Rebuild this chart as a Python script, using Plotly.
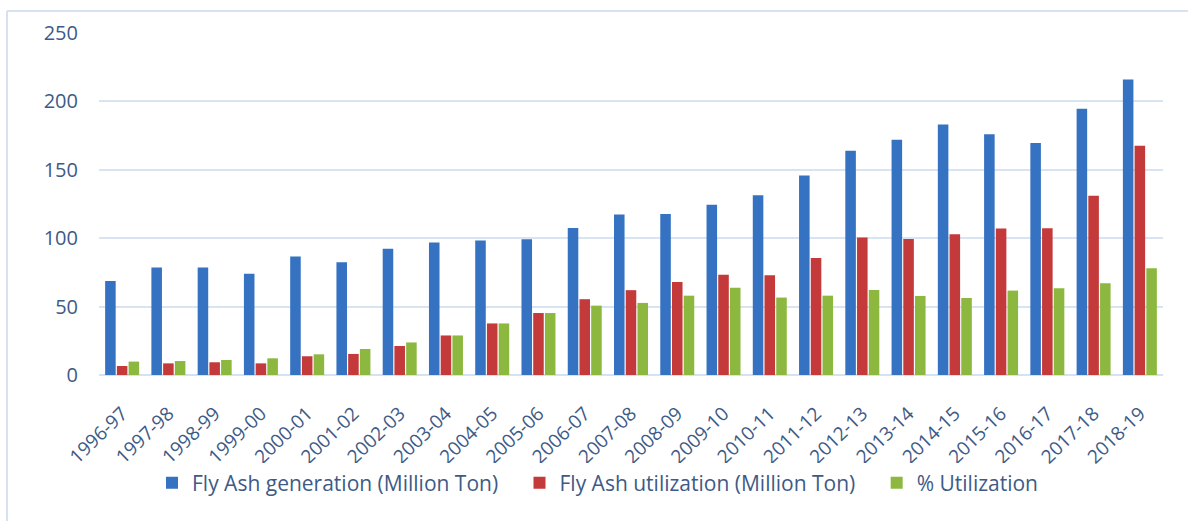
import plotly.graph_objects as go

years = ["1996-97", "1997-98", "1998-99", "1999-00", "2000-01", "2001-02", "2002-03",
         "2003-04", "2004-05", "2005-06", "2006-07", "2007-08", "2008-09", "2009-10",
         "2010-11", "2011-12", "2012-13", "2013-14", "2014-15", "2015-16", "2016-17",
         "2017-18", "2018-19"]
generation = [68.8, 78.5, 78.5, 74.1, 86.6, 82.4, 92.2, 96.8, 98.3, 99.3, 107.4, 117.4,
              117.6, 124.5, 131.4, 145.9, 163.9, 172.0, 183.2, 176.0, 169.5, 194.6, 216.0]
utilization = [6.6, 8.5, 9.3, 8.5, 13.7, 15.4, 21.2, 28.9, 37.7, 45.3, 55.4, 62.0,
               67.9, 73.3, 73.0, 85.6, 100.5, 99.5, 102.9, 107.0, 107.3, 131.0, 167.6]
pct_util = [9.8, 10.2, 11.0, 12.2, 15.1, 19.0, 23.8, 28.9, 37.7, 45.3, 50.7, 52.7,
            58.0, 63.7, 56.6, 58.0, 62.2, 57.8, 56.3, 61.7, 63.4, 67.0, 78.0]
y_ticks = [0, 50, 100, 150, 200, 250]
series_names = ["Fly Ash generation (Million Ton)", "Fly Ash utilization (Million Ton)",
                "% Utilization"]

W, H = 1188, 521
L, R, T, B = 99, 25, 33, 146
pw, ph = W - L - R, H - T - B

text_col = "#3e5a86"
font_family = "'Open Sans', Lato, sans-serif"
pad = "\u00a0" * 3

fig = go.Figure()
fig.add_bar(x=years, y=generation, name=series_names[0] + pad,
            marker=dict(color="#3572c2", line=dict(width=0)))
fig.add_bar(x=years, y=utilization, name=series_names[1] + pad,
            marker=dict(color="#c4393a", line=dict(width=0)))
fig.add_bar(x=years, y=pct_util, name=series_names[2],
            marker=dict(color="#8cb83f", line=dict(width=0)))

# outer frame (left and top edges visible in reference)
fx = (7 - L) / pw
fy = 1 + (T - 11) / ph
fig.add_shape(type="line", xref="paper", yref="paper", x0=fx, x1=fx, y0=-1, y1=fy,
              line=dict(color="#d6e2f2", width=2))
fig.add_shape(type="line", xref="paper", yref="paper", x0=fx, x1=1.2, y0=fy, y1=fy,
              line=dict(color="#d6e2f2", width=2))

fig.update_layout(
    width=W, height=H,
    margin=dict(l=L, r=R, t=T, b=B, pad=0, autoexpand=False),
    paper_bgcolor="white", plot_bgcolor="white",
    barmode="group", bargap=0.24, bargroupgap=0.1,
    font=dict(family=font_family, color=text_col),
    showlegend=True,
    legend=dict(orientation="h", x=(152 - L) / pw, xanchor="left",
                y=-(483 - 375) / ph, yanchor="middle",
                font=dict(size=21, color=text_col),
                itemwidth=30, traceorder="normal"),
    xaxis=dict(type="category", tickangle=-44, tickfont=dict(size=19, color=text_col),
               showgrid=False, showline=True, linecolor="#d6e2f2", linewidth=1,
               ticks="", ticklabelstandoff=19, automargin=False),
    yaxis=dict(range=[0, 250], tickvals=y_ticks, tickfont=dict(size=20, color=text_col),
               showgrid=True, gridcolor="#d9e4f3", gridwidth=1.5, zeroline=True,
               zerolinecolor="#d6e2f2", zerolinewidth=1.5, showline=False,
               ticks="", ticklabelstandoff=20, automargin=False),
)

fig.write_html("out.html")
